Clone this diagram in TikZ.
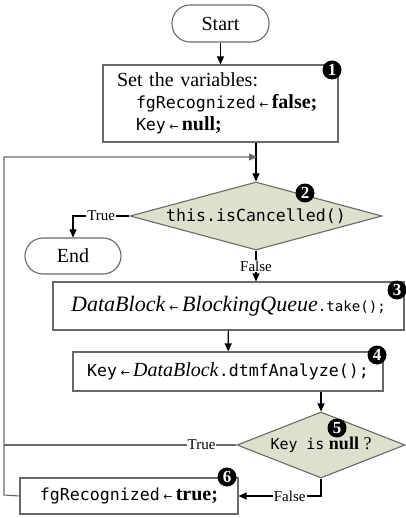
\documentclass[tikz,border=0pt]{standalone}
\usepackage{fontspec}
\setmainfont{Liberation Serif}
\setmonofont{DejaVu Sans Mono}[Scale=0.83]
\newfontfamily\arrfont{DejaVu Sans}
\usetikzlibrary{arrows.meta}
\usetikzlibrary{shapes.geometric,calc}

\definecolor{decfill}{RGB}{220,224,204}
\definecolor{linegray}{RGB}{105,105,105}
\newcommand{\asgn}{\,{\arrfont\fontsize{11}{11}\selectfont ←}\,}
\newcommand{\smalltt}[1]{{\fontsize{17}{17}\selectfont\texttt{#1}}}

\tikzset{
	box/.style={draw=linegray, inner ysep=0pt, inner xsep=6pt, font=\fontsize{20}{22}\selectfont},
	term/.style={draw=linegray, rounded corners=18pt, inner sep=0pt, font=\fontsize{20}{22}\selectfont},
	decision/.style={shape=diamond, draw=linegray, fill=decfill, inner sep=0pt, font=\fontsize{20}{22}\selectfont},
	badge/.style={shape=circle, fill=black, text=white, inner sep=0pt, minimum size=19pt, font=\fontsize{17}{17}\selectfont\bfseries},
	lbl/.style={fill=white, inner sep=1pt, font=\fontsize{15}{15}\selectfont}
}

\begin{document}
\begin{tikzpicture}[x=1pt, y=-1pt, line width=1.1pt, >={Triangle[length=8pt,width=7pt]}]
		\useasboundingbox (0,0) rectangle (405,518);
		\draw (220.5,23.5) node[term, minimum width=97pt, minimum height=37pt](start){Start};
		\draw (220.5,103.5) node[box, minimum width=235pt, minimum height=77pt, inner xsep=14pt, text width=207pt, align=left](init){Set the variables:\\ \hspace*{19pt}\texttt{fgRecognized}\asgn\textbf{false;}\\ \hspace*{19pt}\texttt{Key}\asgn\textbf{null;}};
		\draw (256,216) node[decision, minimum width=252pt, minimum height=68pt](cancel){\makebox[0pt]{\texttt{this.isCancelled()}}};
		\draw (73,256) node[term, minimum width=96pt, minimum height=36pt](finish){End};
		\draw (228.5,306) node[box, minimum width=351pt, minimum height=48pt, font=\fontsize{22}{24}\selectfont](take){\textit{DataBlock}\asgn\textit{BlockingQueue}\smalltt{.take();}};
		\draw (228,371.5) node[box, minimum width=310pt, minimum height=39pt](analyze){\texttt{Key}\asgn\textit{DataBlock}\texttt{.dtmfAnalyze();}};
		\draw (321,445) node[decision, minimum width=168pt, minimum height=66pt, font=\fontsize{18}{20}\selectfont](isnull){\makebox[0pt]{\texttt{Key is} \textbf{null} ?}};
		\draw (129,496) node[box, minimum width=218pt, minimum height=36pt](found){\texttt{fgRecognized}\asgn\textbf{true;}};
		\draw (332,70) node[badge](n1){1};
		\draw (305,193) node[badge](n2){2};
		\draw (397,290) node[badge](n3){3};
		\draw (377,355) node[badge](n4){4};
		\draw (337,428) node[badge](n5){5};
		\draw (227,477) node[badge](n6){6};
		\coordinate (merge) at (257,157);
		\coordinate (loopt) at (4,157);
		\coordinate (loopb) at (4,495);
		\draw[->] (start) -- (init);
		\draw[->] (cancel.north |- init.south) -- (cancel.north);
		\draw[->, draw=linegray] (found.west) -- (loopb) -- (loopt) -- (merge);
		\draw[->] (cancel.west) -- node[lbl]{True} (cancel.west -| finish.north) -- (finish.north);
		\draw[->] (cancel.south) -- node[lbl]{False} (cancel.south |- take.north);
		\draw[->] (take) -- (analyze);
		\draw[->] (isnull.north |- analyze.south) -- (isnull.north);
		\draw[draw=linegray] (isnull.west) -- node[lbl, pos=0.15]{True} (isnull.west -| loopb);
		\draw[->] (isnull.south) |- node[lbl, pos=0.69]{False} (found.east);
	\end{tikzpicture}
\end{document}
